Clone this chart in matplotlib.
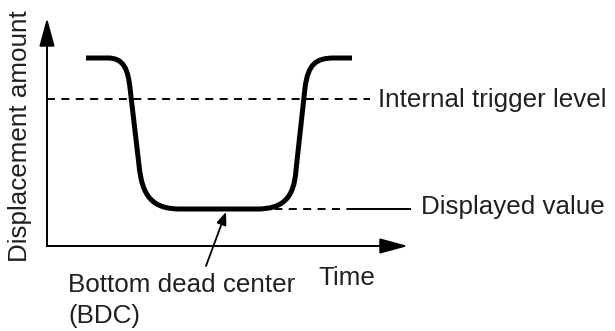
import numpy as np
import matplotlib
matplotlib.use("Agg")
import matplotlib.pyplot as plt
from matplotlib.path import Path
from matplotlib.patches import PathPatch

plt.rcParams['font.family'] = ['Liberation Sans', 'DejaVu Sans']

TEXT_COLOR = '#231f20'
FS = 18.7

# displacement curve, time / displacement units (origin at axis corner)
curve_t = [39, 61, 77, 81, 83, 92, 95, 106, 133, 210, 236, 247, 249, 258, 261, 269, 287, 305]
curve_d = [188, 188, 188, 176, 158, 81, 49, 37, 37, 37, 37, 48, 76, 158, 182, 188, 188, 188]
curve_codes = [Path.MOVETO, Path.LINETO,
               Path.CURVE4, Path.CURVE4, Path.CURVE4,
               Path.LINETO,
               Path.CURVE4, Path.CURVE4, Path.CURVE4,
               Path.LINETO,
               Path.CURVE4, Path.CURVE4, Path.CURVE4,
               Path.LINETO,
               Path.CURVE4, Path.CURVE4, Path.CURVE4,
               Path.LINETO]

trigger_level = 147
displayed_value = 37
bdc_time = 179

t_max = 361
d_max = 228

fig = plt.figure(figsize=(6.15, 3.31), dpi=100)
ax = fig.add_axes([0, 0, 1, 1])
ax.set_xlim(-47, 568)
ax.set_ylim(-85, 246)
ax.axis('off')

# axes with arrows
ax.annotate('', xy=(0, d_max), xytext=(0, 0),
            arrowprops=dict(arrowstyle='-|>,head_length=1.73,head_width=0.47',
                            mutation_scale=10, lw=1.4, color='black',
                            shrinkA=0, shrinkB=0))
ax.annotate('', xy=(t_max, 0), xytext=(0, 0),
            arrowprops=dict(arrowstyle='-|>,head_length=1.73,head_width=0.47',
                            mutation_scale=10, lw=1.4, color='black',
                            shrinkA=0, shrinkB=0))

# trigger level
ax.plot([0, 323], [trigger_level, trigger_level], color='black', lw=1.4,
        linestyle=(0, (4.1, 3.3)), solid_capstyle='butt')
ax.text(331, trigger_level - 8, 'Internal trigger level', fontsize=FS,
        color=TEXT_COLOR, ha='left', va='baseline')

# displayed value
ax.plot([213, 306], [displayed_value, displayed_value], color='black', lw=1.4,
        linestyle=(0, (4.1, 3.3)))
ax.plot([306, 363], [displayed_value, displayed_value], color='black', lw=1.4)
ax.text(374, displayed_value - 5, 'Displayed value', fontsize=FS,
        color=TEXT_COLOR, ha='left', va='baseline')

# curve
path = Path(np.column_stack([curve_t, curve_d]), curve_codes)
ax.add_patch(PathPatch(path, facecolor='none', edgecolor='black', lw=3.6,
                       capstyle='butt', joinstyle='round'))

# BDC arrow and labels
ax.annotate('', xy=(bdc_time, displayed_value - 3), xytext=(159, -20),
            arrowprops=dict(arrowstyle='-|>,head_length=0.75,head_width=0.3',
                            mutation_scale=10, lw=1.3, color='black',
                            shrinkA=0, shrinkB=0))
ax.text(21, -46, 'Bottom dead center', fontsize=FS, color=TEXT_COLOR,
        ha='left', va='baseline')
ax.text(21, -77, '(BDC)', fontsize=FS, color=TEXT_COLOR,
        ha='left', va='baseline')

ax.text(271, -39, 'Time', fontsize=FS, color=TEXT_COLOR, ha='left', va='baseline')
ax.text(-20, 110, 'Displacement amount', fontsize=FS, color=TEXT_COLOR,
        rotation=90, rotation_mode='anchor', ha='center', va='baseline')

fig.savefig('out.png', dpi=100)
